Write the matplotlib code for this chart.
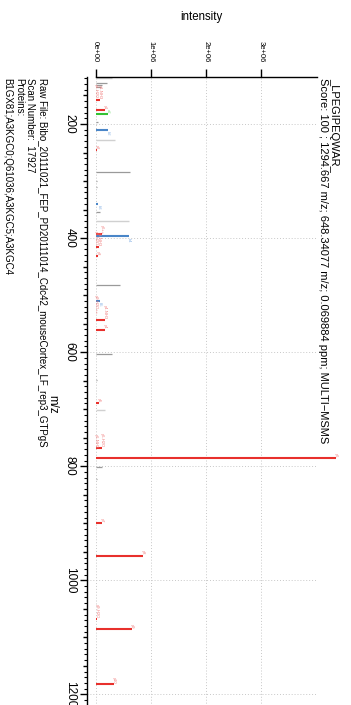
import matplotlib
matplotlib.use("Agg")
import matplotlib.pyplot as plt
from matplotlib.ticker import FixedLocator, NullFormatter

plt.rcParams['font.family'] = ['Liberation Sans', 'DejaVu Sans']

# ---------------- data ----------------
# annotated y ions (red)
y_mz = [157.1, 158.1, 175.1, 246.2, 393.7, 414.2, 415.2, 432.2, 534.3, 543.3, 560.3,
        689.3, 768.4, 769.4, 786.4, 899.5, 956.5, 1067.5, 1085.5, 1182.6]
y_int = [0.01e6, 0.07e6, 0.17e6, 0.03e6, 0.12e6, 0.01e6, 0.06e6, 0.04e6, 0.0e6, 0.16e6, 0.17e6,
         0.06e6, 0.12e6, 0.01e6, 4.35e6, 0.12e6, 0.85e6, 0.03e6, 0.65e6, 0.33e6]
y_lab = ['y1-H2O', 'y1-NH3', 'y1', 'y2', 'y6++', 'y3-H2O', 'y3-NH3', 'y3', 'y9-H2O++', 'y4-NH3', 'y4',
         'y5', 'y6-H2O', 'y6-NH3', 'y6', 'y7', 'y8', 'y9-H2O', 'y9', 'y10']
# annotated b ions (blue)
b_mz = [211.1, 340.2, 397.2, 510.3]
b_int = [0.22e6, 0.05e6, 0.60e6, 0.08e6]
b_lab = ['b2', 'b3', 'b4', 'b5']
# annotated a ions (green)
a_mz = [183.1]
a_int = [0.22e6]
a_lab = ['a2']
# unassigned peaks, darker grey
g_mz = [128.8, 131.8, 135.5, 196.0, 284.5, 300.0, 310.0, 353.7, 482.0, 603.0, 648.8, 800.6, 823.0, 992.0, 1050.0]
g_int = [0.20e6, 0.11e6, 0.10e6, 0.05e6, 0.63e6, 0.02e6, 0.02e6, 0.08e6, 0.44e6, 0.29e6, 0.02e6, 0.11e6, 0.02e6, 0.01e6, 0.01e6]
# unassigned peaks, light grey
l_mz = [120.0, 228.1, 369.7, 701.6]
l_int = [0.30e6, 0.35e6, 0.61e6, 0.17e6]

x_ticks = [0, 1e6, 2e6, 3e6]
x_ticklabels = ['0e+00', '1e+06', '2e+06', '3e+06']
mz_ticks = [200, 400, 600, 800, 1000, 1200]

title1 = '_LPEGIPEQWAR_'
title2 = 'Score: 100 ; 1294.667 m/z; 648.34077 m/z; 0.069884 ppm; MULTI\u2212MSMS'
info = ['Raw File: Bibo_20111021_FEP_PD20111014_Cdc42_mouseCortex_LF_rep3_GTPgS',
        'Scan Number:  17927',
        'Proteins:',
        'B1GX81;A3KGC0;Q61036;A3KGC5;A3KGC4']

# ---------------- layout ----------------
W, H = 351, 705
fig = plt.figure(figsize=(W / 100, H / 100), dpi=100)
fig.patch.set_facecolor('white')

px0 = 95.7      # pixel of intensity 0
pxs = 55.2e-6   # pixels per intensity unit
py200 = 124.0   # pixel of m/z 200
pys = 0.5704    # pixels per m/z

ax_l, ax_r, ax_t, ax_b = 86.7, 316.5, 77.0, 720.0
xmin = (ax_l - px0) / pxs
xmax = (ax_r - px0) / pxs
ytop = 200 + (ax_t - py200) / pys
ybot = 200 + (ax_b - py200) / pys

ax = fig.add_axes([ax_l / W, 1 - ax_b / H, (ax_r - ax_l) / W, (ax_b - ax_t) / H])
ax.set_xlim(xmin, xmax)
ax.set_ylim(ybot, ytop)
ax.set_facecolor('none')

for s in ['right', 'bottom']:
    ax.spines[s].set_visible(False)
ax.spines['top'].set_bounds(0, 4e6)
ax.spines['top'].set_linewidth(1.0)
ax.spines['left'].set_linewidth(1.0)

ax.xaxis.tick_top()
ax.xaxis.set_major_locator(FixedLocator(x_ticks))
ax.set_xticklabels(x_ticklabels, rotation=-90, fontsize=5.5)
ax.tick_params(axis='x', which='major', length=5.5, width=1.0, pad=5, direction='out')

ax.yaxis.set_major_locator(FixedLocator(mz_ticks))
ax.set_yticklabels([str(t) for t in mz_ticks], rotation=-90, fontsize=8.5, va='center')
ax.yaxis.set_minor_locator(FixedLocator([m for m in range(120, 1250, 10) if m % 50 != 0]))
ax.tick_params(axis='y', which='major', length=5.0, width=1.0, pad=3, direction='out')
ax.tick_params(axis='y', which='minor', length=2.3, width=0.8, direction='out')

sec = ax.secondary_yaxis('left')
sec.spines['left'].set_visible(False)
sec.yaxis.set_major_locator(FixedLocator([m for m in range(150, 1250, 50) if m % 200 != 0]))
sec.yaxis.set_major_formatter(NullFormatter())
sec.tick_params(axis='y', which='major', length=3.2, width=1.0, direction='out')
sec.yaxis.set_minor_locator(FixedLocator([]))

ax.grid(True, which='major', linestyle=(0, (1, 2)), color='#c8c8c8', linewidth=0.7)
ax.set_axisbelow(True)

# ---------------- peaks ----------------
RED, RED_L = '#E8302C', '#F07A7A'
BLUE, BLUE_L = '#4A86C8', '#8DB6E6'
GREEN, GREEN_L = '#33C233', '#7EDC7E'
GREY, GREY_L = '#9A9A9A', '#D0D0D0'

ax.hlines(l_mz, 0, l_int, colors=GREY_L, linewidth=1.0)
ax.hlines(g_mz, 0, g_int, colors=GREY, linewidth=0.9)
ax.hlines(y_mz, 0, y_int, colors=RED, linewidth=1.5, clip_on=False)
ax.hlines(b_mz, 0, b_int, colors=BLUE, linewidth=1.5)
ax.hlines(a_mz, 0, a_int, colors=GREEN, linewidth=1.5)

lab_fs = 3.0
for m, i, t in zip(y_mz, y_int, y_lab):
    ax.text(i, m - 1.5, t, rotation=-90, fontsize=lab_fs, color=RED_L,
            ha='center', va='bottom', clip_on=False)
for m, i, t in zip(b_mz, b_int, b_lab):
    ax.text(i, m + 2, t, rotation=-90, fontsize=lab_fs, color=BLUE_L,
            ha='center', va='top')
for m, i, t in zip(a_mz, a_int, a_lab):
    ax.text(i, m - 1.5, t, rotation=-90, fontsize=lab_fs, color=GREEN_L,
            ha='center', va='bottom')

# ---------------- texts ----------------
fig.text(201.6 / W, 1 - 17 / H, 'intensity', ha='center', va='center', fontsize=8.3)
fig.text(52 / W, 1 - 404 / H, 'm/z', ha='center', va='center', rotation=-90, fontsize=8.3)

fig.text(334 / W, 1 - 78 / H, title1, ha='center', va='top', rotation=-90, fontsize=8.0)
fig.text(323 / W, 1 - 78 / H, title2, ha='center', va='top', rotation=-90, fontsize=8.0)

for xpx, t in zip([41.5, 30.0, 19.0, 7.5], info):
    fig.text(xpx / W, 1 - 78 / H, t, ha='center', va='top', rotation=-90, fontsize=7.0)

fig.savefig('out.png', dpi=100, facecolor='white')
